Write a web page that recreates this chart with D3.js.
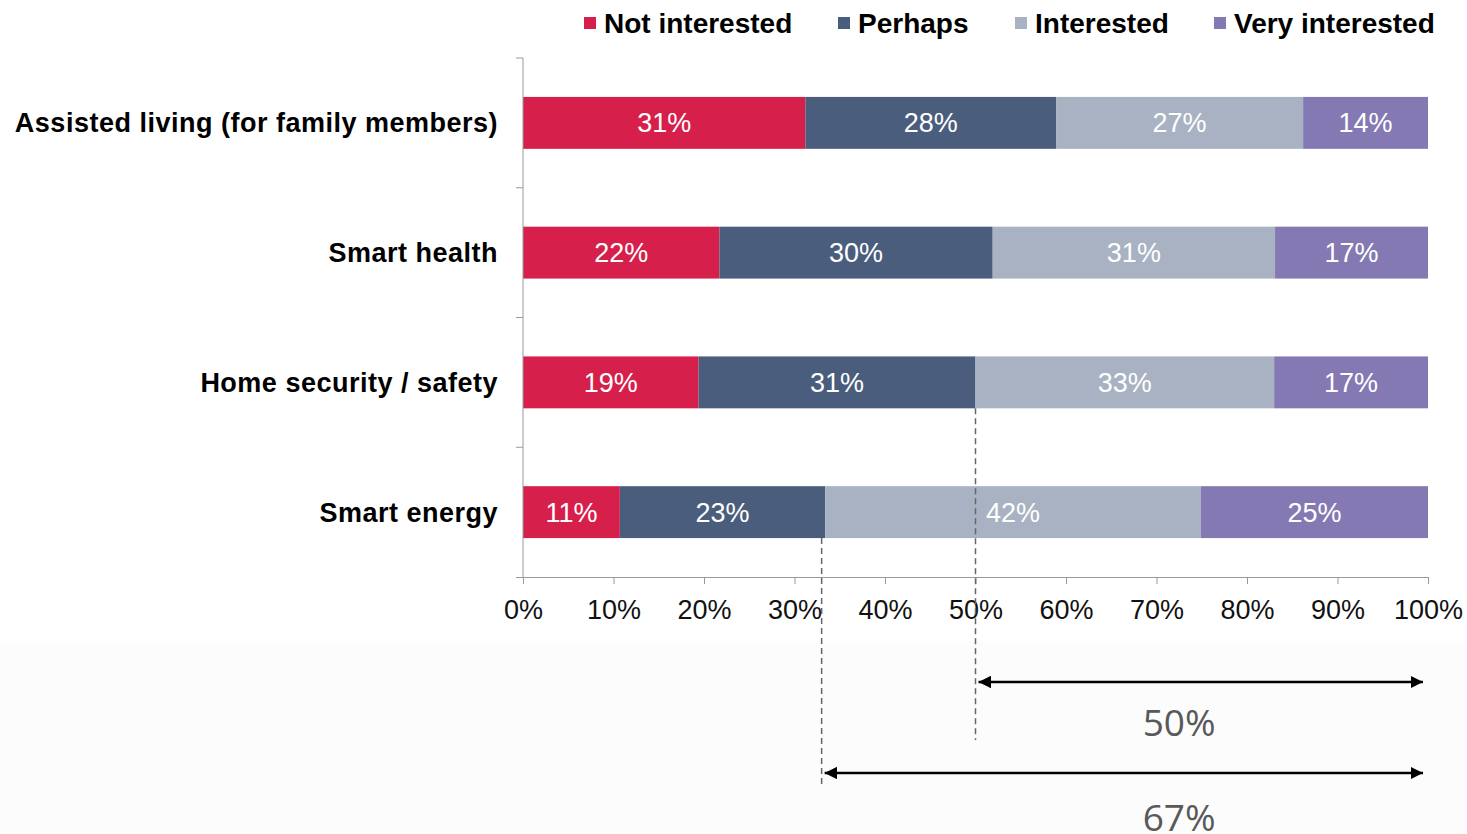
<!DOCTYPE html>
<html>
<head>
<meta charset="utf-8">
<script src="https://cdn.jsdelivr.net/npm/d3@7"></script>
<style>
  body { margin: 0; background: #fff; }
</style>
</head>
<body>
<svg width="1467" height="834"></svg>
<script>
// data
var categories = ["Assisted living (for family members)", "Smart health", "Home security / safety", "Smart energy"];
var seriesNames = ["Not interested", "Perhaps", "Interested", "Very interested"];
var seriesColors = ["#d61f4a", "#4a5d7c", "#a8b2c2", "#8579b3"];
var notInterested = [31.2, 21.7, 19.4, 10.7];
var perhaps = [27.7, 30.2, 30.6, 22.7];
var interested = [27.3, 31.2, 33.0, 41.5];
var veryInterested = [13.8, 16.9, 17.0, 25.1];
var tickValues = [0, 10, 20, 30, 40, 50, 60, 70, 80, 90, 100];
// bracket annotations: start value, which bar the guide drops from, label
var bracketFrom = [50, 33];
var bracketRow = ["Home security / safety", "Smart energy"];
var bracketLabels = ["50%", "67%"];

var svg = d3.select("svg"),
  plotLeft = 523,
  plotRight = 1428,
  plotTop = 58,
  plotBottom = 577;

var font = "'Liberation Sans', Arial, sans-serif";

// light backdrop under the axis
svg.append("rect")
  .attr("x", 0).attr("y", 641)
  .attr("width", 1467).attr("height", 193)
  .style("fill", "#fcfcfc");

var rows = categories.map(function (c, i) {
  var row = { category: c };
  row[seriesNames[0]] = notInterested[i];
  row[seriesNames[1]] = perhaps[i];
  row[seriesNames[2]] = interested[i];
  row[seriesNames[3]] = veryInterested[i];
  return row;
});

var stacked = d3.stack().keys(seriesNames)(rows);

var xScale = d3.scaleLinear().domain([0, 100]).range([plotLeft, plotRight]);
var yScale = d3.scaleBand()
  .domain(categories)
  .range([plotTop, plotBottom])
  .paddingInner(0.6)
  .paddingOuter(0.3);

// bars
var layers = svg.append("g")
  .selectAll("g")
  .data(stacked)
  .enter()
  .append("g")
  .style("fill", function (d, i) { return seriesColors[i]; });

layers.selectAll("rect")
  .data(function (d) { return d; })
  .enter()
  .append("rect")
  .attr("x", function (d) { return xScale(d[0]); })
  .attr("y", function (d) { return yScale(d.data.category); })
  .attr("width", function (d) { return xScale(d[1]) - xScale(d[0]); })
  .attr("height", yScale.bandwidth());

layers.selectAll("text")
  .data(function (d) { return d; })
  .enter()
  .append("text")
  .attr("x", function (d) { return (xScale(d[0]) + xScale(d[1])) / 2; })
  .attr("y", function (d) { return yScale(d.data.category) + yScale.bandwidth() / 2; })
  .attr("dy", "0.35em")
  .attr("text-anchor", "middle")
  .style("fill", "#fff")
  .style("font-family", font)
  .style("font-size", "27px")
  .text(function (d) { return Math.round(d[1] - d[0]) + "%"; });

// x axis
var xAxis = svg.append("g")
  .attr("transform", "translate(0," + plotBottom + ")")
  .call(d3.axisBottom(xScale).tickValues(tickValues).tickSize(7).tickSizeOuter(0)
    .tickFormat(function (d) { return d + "%"; }));
xAxis.select(".domain").attr("d", "M" + (plotLeft - 7) + ",0.5H" + plotRight).style("stroke", "#999");
xAxis.selectAll(".tick line").style("stroke", "#999");
xAxis.selectAll(".tick text")
  .attr("y", 23)
  .style("font-family", font)
  .style("font-size", "27px")
  .style("fill", "#111");

// y axis: ticks at band boundaries
var boundaries = d3.range(categories.length + 1).map(function (i) {
  return plotTop + i * (plotBottom - plotTop) / categories.length;
});
var yAxis = svg.append("g");
yAxis.append("line")
  .attr("x1", plotLeft).attr("x2", plotLeft)
  .attr("y1", plotTop).attr("y2", plotBottom)
  .style("stroke", "#999");
yAxis.selectAll(".bt")
  .data(boundaries.slice(0, -1))
  .enter()
  .append("line")
  .attr("x1", plotLeft - 7).attr("x2", plotLeft)
  .attr("y1", function (d) { return d; })
  .attr("y2", function (d) { return d; })
  .style("stroke", "#999");

svg.append("g")
  .selectAll("text")
  .data(categories)
  .enter()
  .append("text")
  .attr("x", 498)
  .attr("y", function (d) { return yScale(d) + yScale.bandwidth() / 2; })
  .attr("dy", "0.35em")
  .attr("text-anchor", "end")
  .style("font-family", font)
  .style("font-weight", "bold")
  .style("font-size", "27px")
  .style("letter-spacing", "0.5px")
  .style("fill", "#000")
  .text(function (d) { return d; });

// legend
var legendX = [584, 838, 1015, 1214];
var legend = svg.append("g")
  .selectAll("g")
  .data(seriesNames)
  .enter()
  .append("g")
  .attr("transform", function (d, i) { return "translate(" + legendX[i] + ",23)"; });
legend.append("rect")
  .attr("x", 0).attr("y", -6)
  .attr("width", 12).attr("height", 12)
  .style("fill", function (d, i) { return seriesColors[i]; });
legend.append("text")
  .attr("x", 20)
  .attr("dy", "0.35em")
  .style("font-family", font)
  .style("font-weight", "bold")
  .style("font-size", "28px")
  .style("fill", "#000")
  .text(function (d) { return d; });

// bracket annotations
var defs = svg.append("defs");
defs.append("marker")
  .attr("id", "ah")
  .attr("viewBox", "0 0 10 10")
  .attr("refX", 10).attr("refY", 5)
  .attr("markerWidth", 5).attr("markerHeight", 5)
  .attr("orient", "auto-start-reverse")
  .append("path")
  .attr("d", "M0,0L10,5L0,10Z")
  .style("fill", "#000");

var arrowY = [682, 773];
var dashEnd = [740, 785];
var labelY = [723, 818];

bracketFrom.forEach(function (v, i) {
  var x = xScale(v);
  svg.append("line")
    .attr("x1", x).attr("x2", x)
    .attr("y1", yScale(bracketRow[i]) + yScale.bandwidth())
    .attr("y2", dashEnd[i])
    .style("stroke", "#666")
    .style("stroke-width", 1.5)
    .style("stroke-dasharray", "6,4");
  svg.append("line")
    .attr("x1", x + 3).attr("x2", xScale(100) - 5)
    .attr("y1", arrowY[i]).attr("y2", arrowY[i])
    .attr("marker-start", "url(#ah)")
    .attr("marker-end", "url(#ah)")
    .style("stroke", "#000")
    .style("stroke-width", 2.5);
  svg.append("text")
    .attr("x", xScale(72.5))
    .attr("y", labelY[i])
    .attr("dy", "0.35em")
    .attr("text-anchor", "middle")
    .style("font-family", "'Open Sans', sans-serif")
    .style("font-size", "37px")
    .style("fill", "#595959")
    .text(bracketLabels[i]);
});
</script>
</body>
</html>
